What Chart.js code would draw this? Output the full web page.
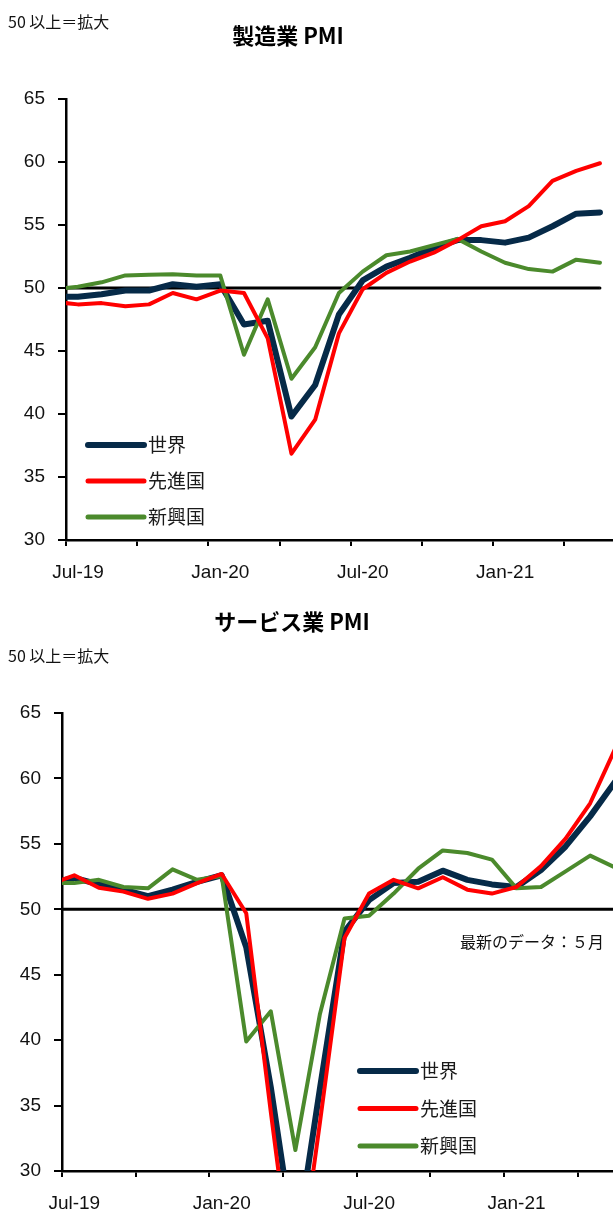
<!DOCTYPE html>
<html><head><meta charset="utf-8">
<script src="https://cdn.jsdelivr.net/npm/chart.js@4.4.0/dist/chart.umd.min.js"></script>
<style>
html,body{margin:0;padding:0;background:#fff;}
body{width:613px;height:1211px;position:relative;overflow:hidden;font-family:"Noto Sans CJK JP",sans-serif;}
.t{position:absolute;white-space:nowrap;line-height:1;color:#000;}
.title{font-weight:bold;font-size:22px;transform:translate(-50%,-50%);}
.note{font-size:16px;transform:translateY(-50%);color:#111;}
.ann{font-size:16px;transform:translateY(-50%);color:#111;}
.box{position:absolute;left:0;width:613px;}
</style></head><body>
<div class="box" style="top:0;height:600px"><canvas id="c1"></canvas></div>
<div class="box" style="top:600px;height:611px"><canvas id="c2"></canvas></div>
<div class="t note" style="left:8px;top:21px">50 以上＝拡大</div>
<div class="t title" style="left:288px;top:34px">製造業 PMI</div>
<div class="t title" style="left:292px;top:620px">サービス業 PMI</div>
<div class="t note" style="left:8px;top:655px">50 以上＝拡大</div>
<div class="t ann" style="left:460px;top:941px">最新のデータ：５月</div>
<script>
// ---- data (first entry Jun-19 is a lead-in point just left of the axis) ----
const months = ['Jun-19','Jul-19','Aug-19','Sep-19','Oct-19','Nov-19','Dec-19','Jan-20','Feb-20','Mar-20','Apr-20','May-20','Jun-20','Jul-20','Aug-20','Sep-20','Oct-20','Nov-20','Dec-20','Jan-21','Feb-21','Mar-21','Apr-21','May-21'];
const seriesNames = ['世界','先進国','新興国'];
const xTickLabels = ['Jul-19','','Jan-20','','Jul-20','','Jan-21',''];
const yTicks = [30,35,40,45,50,55,60,65];
const refLevel = 50;

const mfgWorld = [49.3,49.3,49.5,49.8,49.8,50.3,50.1,50.3,47.1,47.4,39.8,42.3,47.9,50.6,51.7,52.4,53.2,53.8,53.8,53.6,54.0,54.9,55.9,56.0];
const mfgAdv   = [48.9,48.7,48.8,48.55,48.7,49.6,49.1,49.8,49.6,46.0,36.85,39.55,46.4,49.9,51.2,52.1,52.8,53.8,54.9,55.3,56.5,58.5,59.3,59.9];
const mfgEm    = [49.9,50.1,50.45,51.0,51.05,51.1,51.0,51.0,44.7,49.1,42.8,45.3,49.6,51.3,52.6,52.9,53.4,53.9,52.9,52.0,51.5,51.3,52.25,52.0];

const svcWorld = [52.0,52.4,51.9,51.5,51.0,51.5,52.1,52.6,47.1,36.4,23.9,36.3,48.3,50.7,52.0,52.1,52.95,52.25,51.9,51.7,53.0,54.8,57.1,59.7];
const svcAdv   = [51.9,52.6,51.65,51.35,50.8,51.2,52.0,52.7,49.7,34.5,20.0,33.7,47.8,51.2,52.25,51.6,52.45,51.5,51.2,51.7,53.3,55.4,58.1,62.2];
const svcEm    = [52.0,52.0,52.25,51.7,51.6,53.05,52.25,52.55,39.9,42.2,31.6,42.0,49.3,49.5,51.2,53.1,54.5,54.3,53.8,51.6,51.7,52.9,54.1,53.2];

const colors = ['#062a48','#ff0000','#4b8a2c'];
const widths = [6,4,4];
const drawOrder = [3,1,2];
const AXIS_FONT = {family:'"Liberation Sans",Arial,sans-serif', size:19};

const toPts = arr => arr.map((v,i)=>({x:i-1, y:v}));
const tickPos = months.map((m,i)=>i-1).filter(x=>x>=0 && x%3===0).map(x=>x-0.5);

const refLine = {
  id:'refLine',
  beforeDatasetsDraw(chart){
    const xs=chart.scales.x, ys=chart.scales.y, ca=chart.chartArea, ctx=chart.ctx;
    const y=ys.getPixelForValue(refLevel);
    const xEnd=Math.min(ca.right, xs.getPixelForValue(months.length-2));
    ctx.save();
    ctx.strokeStyle='#000'; ctx.lineWidth=3; ctx.lineCap='butt';
    ctx.beginPath(); ctx.moveTo(ca.left,y); ctx.lineTo(xEnd,y); ctx.stroke();
    ctx.beginPath(); ctx.fillStyle='#000'; ctx.arc(xEnd,y,1.5,-Math.PI/2,Math.PI/2); ctx.fill();
    ctx.restore();
  }
};
const inlineLegend = {
  id:'inlineLegend',
  afterDraw(chart,args,o){
    const ctx=chart.ctx;
    ctx.save();
    chart.data.datasets.forEach((ds,i)=>{
      const y=o.y0+i*o.dy;
      ctx.strokeStyle=ds.borderColor; ctx.lineWidth=o.lw[i]; ctx.lineCap='round';
      ctx.beginPath(); ctx.moveTo(o.x0,y); ctx.lineTo(o.x1,y); ctx.stroke();
      ctx.fillStyle='#1a1a1a'; ctx.font='19px "Noto Sans CJK JP"'; ctx.textBaseline='middle'; ctx.textAlign='left';
      ctx.fillText(ds.label,o.x1+4,y);
    });
    ctx.restore();
  }
};

function makeChart(id, data, cfg){
  return new Chart(document.getElementById(id), {
    type:'line',
    data:{datasets: data.map((arr,i)=>({
      label: seriesNames[i], data: toPts(arr), borderColor: colors[i], backgroundColor: colors[i],
      borderWidth: widths[i], pointRadius:0, tension:0, order: drawOrder[i],
      borderJoinStyle:'round', borderCapStyle:'round', clip:0
    }))},
    options:{
      responsive:true, maintainAspectRatio:false, animation:false, devicePixelRatio:1,
      layout:{padding:{top:cfg.top,left:0,right:0,bottom:0}},
      plugins:{legend:{display:false}, tooltip:{enabled:false}, inlineLegend:cfg.legend},
      scales:{
        x:{type:'linear', min:-0.5, max:cfg.xmax,
          afterBuildTicks:s=>{ s.ticks = tickPos.map(v=>({value:v})); },
          afterFit:s=>{ s.height = cfg.xh; },
          ticks:{callback:(v,i)=>xTickLabels[i] ?? '', autoSkip:false, maxRotation:0, labelOffset:cfg.lo, padding:15, font:AXIS_FONT, color:'#111'},
          grid:{drawOnChartArea:false, drawTicks:true, tickLength:6, tickWidth:2, tickColor:'#000', color:'#000', lineWidth:2},
          border:{display:true,color:'#000',width:2.5}
        },
        y:{min:30, max:65,
          afterBuildTicks:s=>{ s.ticks = yTicks.map(v=>({value:v})); },
          afterFit:s=>{ s.width = cfg.yw; },
          ticks:{padding:13, font:AXIS_FONT, color:'#111'},
          grid:{drawOnChartArea:false, drawTicks:true, tickLength:8, tickWidth:2, tickColor:'#000', color:'#000', lineWidth:2},
          border:{display:true,color:'#000',width:2.5}
        }
      }
    },
    plugins:[refLine, inlineLegend]
  });
}

makeChart('c1',[mfgWorld,mfgAdv,mfgEm],{top:99, xh:60, yw:66, xmax:22.55, lo:12,
  legend:{x0:88,x1:144,y0:445,dy:36,lw:[6,5,5]}});
makeChart('c2',[svcWorld,svcAdv,svcEm],{top:113, xh:40, yw:62, xmax:21.93, lo:12.3,
  legend:{x0:360,x1:416,y0:471,dy:37.5,lw:[6,5,5]}});
</script>
</body></html>
